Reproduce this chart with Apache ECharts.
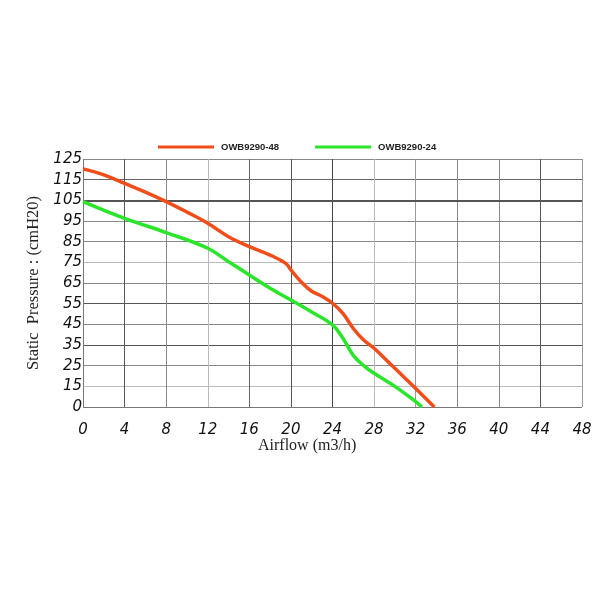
<!DOCTYPE html>
<html>
<head>
<meta charset="utf-8">
<script src="https://cdn.jsdelivr.net/npm/echarts@6/dist/echarts.min.js"></script>
<style>html,body{margin:0;padding:0;background:#fff}#c{width:600px;height:600px}</style>
</head>
<body>
<div id="c"></div>
<script>
// Series names
const seriesNames = ['OWB9290-48', 'OWB9290-24'];
// OWB9290-48 (airflow m3/h, static pressure as read on the chart's scale; bottom line labelled "0" sits at 5)
const airflow48 = [0, 2, 4, 6, 8, 10, 12, 14, 16, 18, 19.5, 20, 21, 22, 23, 24, 25, 26, 27, 28, 30, 32, 33.8];
const pressure48 = [120.2, 117.3, 113.2, 109, 104.4, 99.3, 93.9, 87.4, 82.6, 78.5, 74.5, 71.3, 65.5, 61, 58.5, 55.2, 50.3, 43, 37.4, 33.4, 23.7, 14, 5];
// OWB9290-24
const airflow24 = [0, 4, 8, 12, 14, 16, 18, 20, 22, 24, 25, 26, 27, 28, 30, 32, 32.6];
const pressure24 = [104.4, 96.3, 89.4, 81.8, 75.3, 68.9, 62.4, 56.8, 51, 44.7, 38.3, 30, 25, 21.3, 15, 7.6, 5];
// Tick labels
const xTicks = [0, 4, 8, 12, 16, 20, 24, 28, 32, 36, 40, 44, 48];
const yTickLabels = ['0', '15', '25', '35', '45', '55', '65', '75', '85', '95', '105', '115', '125'];

const chart = echarts.init(document.getElementById('c'), null, {renderer: 'canvas'});
const tickFont = {fontFamily: 'DejaVu Sans', fontStyle: 'italic', fontSize: 15, color: '#111'};
chart.setOption({
  backgroundColor: '#fff',
  animation: false,
  legend: {
    left: 153, top: 137,
    icon: 'rect', itemWidth: 56, itemHeight: 3, itemGap: 36,
    textStyle: {fontFamily: 'Liberation Sans', fontWeight: 'bold', fontSize: 9.5, color: '#222', padding: [0, 0, 0, 2]},
    data: seriesNames
  },
  grid: {left: 83, right: 18, top: 159, bottom: 193},
  xAxis: {
    type: 'value', min: 0, max: 48, interval: 4,
    axisLine: {show: false}, axisTick: {show: false},
    axisLabel: Object.assign({margin: 16, formatter: v => xTicks.includes(v) ? String(v) : ''}, tickFont),
    splitLine: {show: true, lineStyle: {width: 1, color: ['#777', '#555', '#888', '#bbb', '#666', '#555', '#444', '#bbb', '#999', '#888', '#888', '#555', '#999']}}
  },
  yAxis: {
    type: 'value', min: 5, max: 125, interval: 10,
    axisLine: {show: false}, axisTick: {show: false},
    axisLabel: Object.assign({margin: 1, formatter: (v) => yTickLabels[Math.round((v - 5) / 10)]}, tickFont),
    splitLine: {show: true, lineStyle: {width: 1, color: ['#777', '#bbb', '#888', '#555', '#888', '#555', '#888', '#bbb', '#888', '#888', '#444', '#666', '#888']}},
    name: 'Static  Pressure : (cmH20)', nameLocation: 'middle', nameGap: 37,
    nameTextStyle: {fontFamily: 'Liberation Serif', fontSize: 16.5, color: '#222'}
  },
  graphic: [{
    type: 'text', left: 258, top: 438,
    style: {text: 'Airflow (m3/h)', font: '16px "Liberation Serif"', fill: '#222'}
  }],
  series: [
    {
      name: seriesNames[0], type: 'line', smooth: 0.4, showSymbol: false,
      lineStyle: {color: '#EF4D1A', width: 3.5}, itemStyle: {color: '#EF4D1A'},
      data: airflow48.map((x, i) => [x, pressure48[i]]),
      markLine: {silent: true, symbol: 'none', label: {show: false}, lineStyle: {color: '#555', width: 2, type: 'solid'}, data: [{yAxis: 105}], z: 1}
    },
    {
      name: seriesNames[1], type: 'line', smooth: 0.4, showSymbol: false,
      lineStyle: {color: '#2BE52B', width: 3.5}, itemStyle: {color: '#2BE52B'},
      data: airflow24.map((x, i) => [x, pressure24[i]])
    }
  ]
});
</script>
</body>
</html>
